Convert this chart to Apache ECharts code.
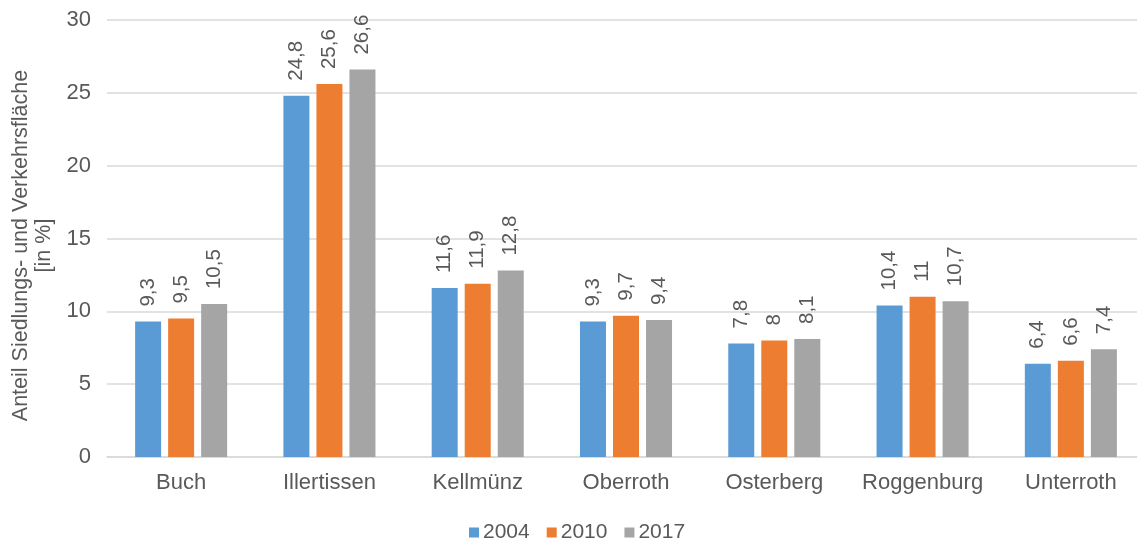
<!DOCTYPE html>
<html>
<head>
<meta charset="utf-8">
<script src="https://cdn.jsdelivr.net/npm/echarts@6/dist/echarts.min.js"></script>
<style>
  html, body { margin: 0; padding: 0; background: #fff; }
  #chart { width: 1137px; height: 540px; }
</style>
</head>
<body>
<div id="chart"></div>
<script>
// Gemeinden und Anteil der Siedlungs- und Verkehrsfläche je Jahr
const categories = ['Buch', 'Illertissen', 'Kellmünz', 'Oberroth', 'Osterberg', 'Roggenburg', 'Unterroth'];
const years = ['2004', '2010', '2017'];
const values2004 = [9.3, 24.8, 11.6, 9.3, 7.8, 10.4, 6.4];
const values2010 = [9.5, 25.6, 11.9, 9.7, 8.0, 11.0, 6.6];
const values2017 = [10.5, 26.6, 12.8, 9.4, 8.1, 10.7, 7.4];
const yTicks = [0, 5, 10, 15, 20, 25, 30];

const colors = ['#5B9BD5', '#ED7D31', '#A5A5A5'];
const fontFamily = '"Liberation Sans", Arial, sans-serif';
const textColor = '#595959';

const chart = echarts.init(document.getElementById('chart'), null, { renderer: 'canvas' });

function fmt(v) {
  return String(v).replace('.', ',');
}

function makeSeries(name, data, color) {
  return {
    name: name,
    type: 'bar',
    data: data,
    barWidth: 26,
    barGap: '27%',
    itemStyle: { color: color },
    label: {
      show: true,
      position: 'top',
      rotate: 90,
      align: 'left',
      verticalAlign: 'middle',
      distance: 15,
      color: textColor,
      fontFamily: fontFamily,
      fontSize: 20.5,
      formatter: p => fmt(p.value)
    }
  };
}

chart.setOption({
  animation: false,
  color: colors,
  // the plot area runs a little past the right edge of the canvas
  grid: { left: 107, width: 1038, top: 20, bottom: 83, containLabel: false, outerBoundsMode: 'none' },
  legend: {
    data: years,
    top: 517,
    left: 464,
    icon: 'rect',
    itemWidth: 10,
    itemHeight: 10,
    itemGap: 17,
    textStyle: { color: textColor, fontFamily: fontFamily, fontSize: 21, padding: [0, 0, 0, -1] }
  },
  xAxis: {
    type: 'category',
    data: categories,
    axisTick: { show: false },
    axisLine: { show: true, lineStyle: { color: '#D9D9D9', width: 1.5 } },
    axisLabel: { interval: 0, color: textColor, fontFamily: fontFamily, fontSize: 22, margin: 15 }
  },
  yAxis: {
    type: 'value',
    min: yTicks[0],
    max: yTicks[yTicks.length - 1],
    interval: 5,
    name: 'Anteil Siedlungs- und Verkehrsfläche\n[in %]',
    nameLocation: 'middle',
    nameGap: 49,
    nameTextStyle: { color: textColor, fontFamily: fontFamily, fontSize: 21.5, lineHeight: 23, padding: [0, 14, 0, 0] },
    axisLine: { show: false },
    axisTick: { show: false },
    axisLabel: { color: textColor, fontFamily: fontFamily, fontSize: 22, margin: 16 },
    splitLine: { lineStyle: { color: '#D9D9D9', width: 1.5 } }
  },
  series: [
    makeSeries(years[0], values2004, colors[0]),
    makeSeries(years[1], values2010, colors[1]),
    makeSeries(years[2], values2017, colors[2])
  ]
});
</script>
</body>
</html>
